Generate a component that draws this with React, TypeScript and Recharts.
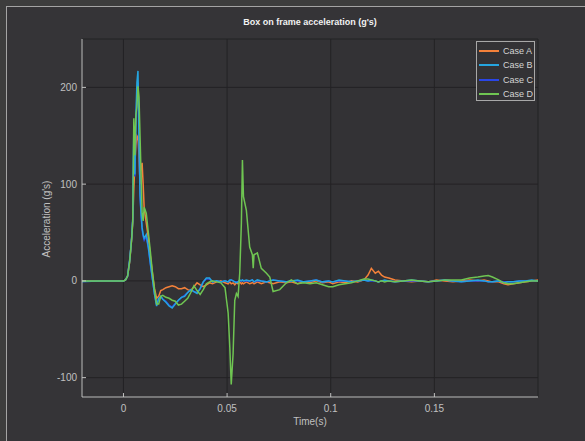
import { CartesianGrid, Legend, Line, LineChart, XAxis, YAxis } from "recharts";

// sample times (s)
const time = [
  -0.02, -0.01, 0, 0.001, 0.002, 0.003, 0.0035, 0.004, 0.0045, 0.005,
  0.0055, 0.006, 0.0065, 0.007, 0.0075, 0.008, 0.0085, 0.009, 0.0095, 0.01,
  0.011, 0.012, 0.013, 0.014, 0.015, 0.016, 0.017, 0.018, 0.019, 0.0205,
  0.022, 0.0235, 0.025, 0.0265, 0.028, 0.0295, 0.031, 0.0325, 0.034, 0.0355,
  0.037, 0.0385, 0.04, 0.0415, 0.043, 0.045, 0.047, 0.049, 0.0505, 0.0513,
  0.052, 0.0529, 0.0537, 0.0545, 0.0553, 0.0561, 0.0569, 0.0574, 0.0579, 0.0593,
  0.0609, 0.0622, 0.0626, 0.063, 0.0646, 0.0665, 0.069, 0.0706, 0.0722, 0.0754,
  0.0786, 0.081, 0.084, 0.087, 0.09, 0.093, 0.096, 0.099, 0.101, 0.104,
  0.107, 0.11, 0.113, 0.116, 0.118, 0.1196, 0.1215, 0.123, 0.1245, 0.126,
  0.128, 0.131, 0.135, 0.139, 0.143, 0.147, 0.151, 0.155, 0.159, 0.163,
  0.167, 0.171, 0.174, 0.176, 0.178, 0.181, 0.1835, 0.1855, 0.188, 0.191,
  0.194, 0.197, 0.2
];

const caseA = [
  0, 0, 0, 1, 5, 20, 32, 45, 62, 95,
  120, 140, 150, 148, 130, 100, 118, 122, 100, 75,
  60, 45, 25, 8, -8, -18, -16, -10, -9, -7,
  -6, -5, -6, -8, -8, -7, -9, -10, -6, -2,
  -4, -6, -4, -2, -3, -1, 0, -2, -3, -1,
  -3, -2, -4, -2, -3, -1, -3, -2, -3, -1,
  -3, -2, -2, -3, -1, -3, -1, -2, -3, -1,
  -2, -1, -3, -1, -2, 0, -2, -1, -3, -1,
  -2, 0, -1, 1, 6, 13, 8, 10, 6, 4,
  3, 1, 0, -1, 0, -1, 1, 0, -1, 0,
  1, 0, 1, 0, -1, -1, -3, -4, -3, -2,
  -1, 0, 1
];

const caseB = [
  -0.5, 0, 0, 1, 5, 22, 33, 46, 65, 160,
  110, 168, 205, 217, 150, 90, 70, 55, 48, 44,
  48, 35, 18, 2, -14, -26, -18, -16, -19, -22,
  -26, -28, -24, -20, -17, -16, -12, -9, -11, -13,
  -8, -1, 3, 3, -1, 0, -1, 0, -1, 1,
  1, 0, -1, -2, -1, 1, 0, 1, 0, 1,
  0, 1, 0, -1, 1, 0, -1, 0, 1, 0,
  -1, 0, 1, -1, 0, 1, -1, 0, -1, 1,
  0, -1, 0, 1, 0, 1, 0, -1, 0, 1,
  0, -1, 0, 1, 0, -1, 0, 1, 0, -1,
  0, 1, 0, -1, -1, 0, -2, -1, -1, 0,
  0, 1, 0
];

const caseC = [
  -0.5, 0, 0, 1, 5, 21, 33, 46, 64, 150,
  108, 160, 195, 205, 145, 88, 68, 53, 46, 42,
  46, 34, 17, 1, -14, -25, -18, -16, -19, -21,
  -25, -27, -23, -20, -17, -15, -12, -9, -11, -12,
  -8, -1, 2, 2, -1, 0, -1, 0, -1, 0,
  1, 0, -1, -1, -1, 0, 0, 1, 0, 0,
  0, 1, 0, -1, 0, 0, -1, 0, 1, 0,
  -1, 0, 0, -1, 0, 1, -1, 0, -1, 0,
  0, -1, 0, 1, 0, 0, 0, -1, 0, 0,
  0, -1, 0, 0, 0, -1, 0, 1, 0, -1,
  0, 0, 0, -1, -1, 0, -1, -1, -1, 0,
  0, 0, 0
];

const caseD = [
  0, 0, 0, 1, 5, 20, 32, 44, 62, 168,
  130, 172, 180, 201, 190, 150, 110, 70, 62, 76,
  70, 50, 30, 8, -10, -24, -24, -16, -15, -17,
  -18, -20, -21, -25, -24, -21, -18, -12, -5, -10,
  -14, -9, -3, -1, 0, -1, -2, -7, -33, -68,
  -107, -75, -20, -13, -16, 8, 60, 125, 87, 73,
  35, 27, 13, 27, 29, 13, 8, 4, -11, -9,
  -2, 1, -3, -2, -3, -2, -4, -6, -6, -4,
  -3, -2, 0, 2, 2, 1, 0, -1, 0, -1,
  0, -1, 0, 1, 0, -1, 0, 1, 1, 1,
  3, 4, 5, 5.5, 4, 1, -2, -3, -3, -2,
  -1, 0, 0
];

const seriesNames = ["Case A", "Case B", "Case C", "Case D"];
const seriesKeys = ["a", "b", "c", "d"];
const seriesColors = ["#f4813a", "#25a5df", "#2a46e6", "#6fc552"];

const xTicks = [0, 0.05, 0.1, 0.15];
const yTicks = [-100, 0, 100, 200];

const data = time.map((t, i) => ({ t, a: caseA[i], b: caseB[i], c: caseC[i], d: caseD[i] }));

const axisColor = "#c4c4c4";
const textColor = "#c0c0c0";

function LegendBox() {
  return (
    <div
      style={{
        border: "1px solid #a8a8a8",
        background: "#333235",
        boxSizing: "border-box",
        width: 59,
        height: 60,
        paddingTop: 2
      }}
    >
      {seriesNames.map((name, i) => (
        <div key={name} style={{ display: "flex", alignItems: "center", height: 14.3 }}>
          <div style={{ marginLeft: 2, width: 20, height: 2, background: seriesColors[i] }} />
          <span style={{ marginLeft: 4, fontSize: 9, color: "#d4d4d4", lineHeight: "10px" }}>{name}</span>
        </div>
      ))}
    </div>
  );
}

export default function App() {
  // draw order A, C, B, D so that C sits under B
  const order = [0, 2, 1, 3];
  return (
    <div
      style={{
        position: "absolute",
        left: 0,
        top: 0,
        width: 585,
        height: 441,
        overflow: "hidden",
        background: "#3d3d3d",
        fontFamily: "'Liberation Sans', Arial, sans-serif"
      }}
    >
      <div
        style={{
          position: "absolute",
          left: 6,
          top: 6,
          width: 620,
          height: 480,
          borderLeft: "1px solid #a4a4a4",
          borderTop: "1px solid #a4a4a4",
          background: "#353437"
        }}
      />
      <div
        style={{
          position: "absolute",
          left: 82,
          width: 456,
          top: 17,
          textAlign: "center",
          fontSize: 9,
          fontWeight: "bold",
          color: "#f2f2f2"
        }}
      >
        Box on frame acceleration (g's)
      </div>
      <div
        style={{
          position: "absolute",
          left: 82,
          width: 456,
          top: 416,
          textAlign: "center",
          fontSize: 10,
          color: textColor
        }}
      >
        Time(s)
      </div>
      <div
        style={{
          position: "absolute",
          left: 47,
          top: 219,
          width: 0,
          height: 0
        }}
      >
        <div
          style={{
            position: "absolute",
            left: -60,
            top: -6,
            width: 120,
            textAlign: "center",
            fontSize: 10,
            lineHeight: "12px",
            color: textColor,
            transform: "rotate(-90deg)"
          }}
        >
          Acceleration (g's)
        </div>
      </div>
      <div style={{ position: "absolute", left: 0, top: 0 }}>
        <LineChart width={585} height={441} data={data} margin={{ top: 39, right: 47, bottom: 14, left: 42 }}>
          <CartesianGrid stroke="#232225" fill="#333235" />
          <XAxis
            dataKey="t"
            type="number"
            domain={[-0.02, 0.2]}
            ticks={xTicks}
            allowDataOverflow
            height={30}
            stroke={axisColor}
            tickSize={-4}
            tickMargin={12}
            tick={{ fill: textColor, fontSize: 10 }}
          />
          <XAxis
            xAxisId="top"
            orientation="top"
            type="number"
            domain={[-0.02, 0.2]}
            ticks={xTicks}
            allowDataOverflow
            height={0}
            stroke={axisColor}
            tickSize={-4}
            tick={false}
          />
          <YAxis
            type="number"
            domain={[-120, 250]}
            ticks={yTicks}
            allowDataOverflow
            width={40}
            stroke={axisColor}
            tickSize={-4}
            tickMargin={9}
            tick={{ fill: textColor, fontSize: 10 }}
          />
          <YAxis
            yAxisId="right"
            orientation="right"
            type="number"
            domain={[-120, 250]}
            ticks={yTicks}
            allowDataOverflow
            width={0}
            stroke={axisColor}
            tickSize={-4}
            tick={false}
          />
          {order.map((i) => (
            <Line
              key={seriesKeys[i]}
              dataKey={seriesKeys[i]}
              name={seriesNames[i]}
              type="linear"
              stroke={seriesColors[i]}
              strokeWidth={1.5}
              dot={false}
              isAnimationActive={false}
            />
          ))}
          <Legend
            layout="vertical"
            align="center"
            verticalAlign="middle"
            wrapperStyle={{ position: "absolute", left: 476, top: 41, width: 59, height: 60 }}
            content={() => <LegendBox />}
          />
        </LineChart>
      </div>
    </div>
  );
}
